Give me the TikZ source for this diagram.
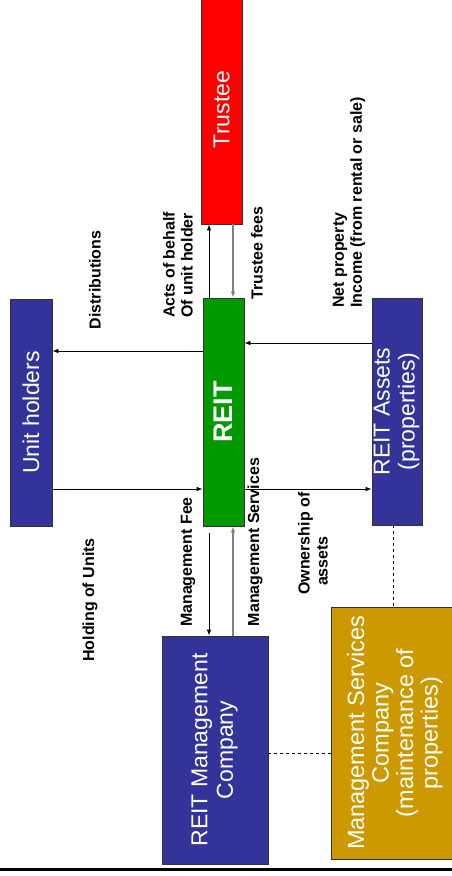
\documentclass[tikz,border=0pt]{standalone}
\usepackage{fontspec}
\setmainfont{Liberation Sans}
\usetikzlibrary{arrows.meta,calc}
\definecolor{boxblue}{HTML}{333399}
\definecolor{boxgreen}{HTML}{009900}
\definecolor{boxred}{HTML}{FF0000}
\definecolor{boxgold}{HTML}{CC9900}
\definecolor{linegray}{HTML}{808080}
\begin{document}
\begin{tikzpicture}[x=1pt,y=-1pt,
  box/.style={draw=black!80, line width=0.8pt, inner sep=0pt, text=white},
  lbl/.style={rotate=90, inner sep=0pt, font=\bfseries\fontsize{16}{18}\selectfont},
  arr/.style={line width=0.8pt, -{Latex[length=6pt,width=4.5pt]}},
  garr/.style={line width=1.3pt, draw=linegray, -{Latex[length=6pt,width=4.5pt]}},
  dashline/.style={line width=0.8pt, dashed}
]
\useasboundingbox (0,0) rectangle (452,876);
\clip (0,0) rectangle (452,876);
\fill[white] (0,0) rectangle (452,876);

% boxes
\node[box, fill=boxred, minimum width=41pt, minimum height=229pt] (trustee) at (221.5,109.5)
  {\rotatebox{90}{\fontsize{23}{25.5}\selectfont Trustee}};
\node[box, fill=boxgreen, minimum width=41pt, minimum height=228pt] (reit) at (223.5,412)
  {\rotatebox{90}{\bfseries\fontsize{27}{30}\selectfont REIT}};
\node[box, fill=boxblue, minimum width=42pt, minimum height=227pt] (unit) at (31,412.5)
  {\rotatebox{90}{\fontsize{23}{25.5}\selectfont Unit holders}};
\node[box, fill=boxblue, minimum width=42pt, minimum height=227pt] (assets) at (397,411.5)
  {\rotatebox{90}{\fontsize{23}{25}\selectfont\begin{tabular}{@{}c@{}}REIT Assets\\(properties)\end{tabular}}};
\node[box, fill=boxblue, minimum width=106pt, minimum height=228pt] (rmc) at (215,750)
  {\rotatebox{90}{\fontsize{23}{25.5}\selectfont\begin{tabular}{@{}c@{}}REIT Management\\Company\end{tabular}}};
\node[box, fill=boxgold, minimum width=130pt, minimum height=252pt] (msc) at (396,733)
  {\rotatebox{90}{\fontsize{23.5}{24.5}\selectfont\begin{tabular}{@{}c@{}}Management Services\\Company\\(maintenance of\\properties)\end{tabular}}};

% connectors
\draw[arr] (209,0 |- reit.north) -- (209,0 |- trustee.south);
\draw[garr] (233,0 |- trustee.south) -- (233,0 |- reit.north);
\draw[arr] (reit.west |- 0,351) -- (unit.east |- 0,351);
\draw[arr] (unit.east |- 0,489) -- (reit.west |- 0,489);
\draw[arr] (assets.west |- 0,343) -- (reit.east |- 0,343);
\draw[arr] (reit.east |- 0,489) -- (assets.west |- 0,489);
\draw[arr] ($(209,0 |- reit.south)+(0,7)$) -- (209,0 |- rmc.north);
\draw[garr] (233,0 |- rmc.north) -- (233,0 |- reit.south);
\draw[dashline] (393,0 |- assets.south) -- (393,0 |- msc.north);
\draw[dashline] (rmc.east |- 0,753) -- (msc.west |- 0,753);

% labels
\node[lbl] (ldist) at (95,280) {Distributions};
\node[lbl, align=left, anchor=west] (lacts) at (178,318) {Acts of behalf\\Of unit holder};
\node[lbl] (ltfees) at (257,253) {Trustee fees};
\node[lbl, align=left, anchor=west] (lnet) at (349,308) {Net property\\Income (from rental or sale)};
\node[lbl] (lhold) at (90,600) {Holding of Units};
\node[lbl] (lmfee) at (188,562) {Management Fee};
\node[lbl] (lmserv) at (255,542) {Management Services};
\node[lbl, align=left, anchor=west] (lown) at (313,595) {Ownership of\\\ \ assets};

% bottom rule
\draw[line width=3pt] (0,869) -- (452,869);
\end{tikzpicture}
\end{document}
